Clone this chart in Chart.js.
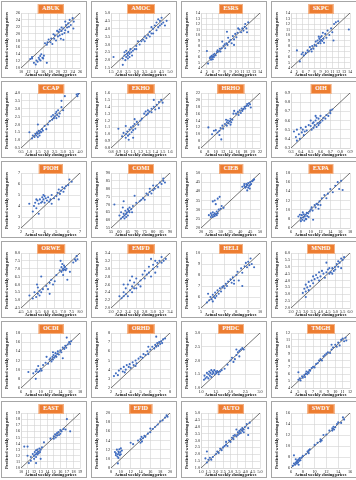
<!DOCTYPE html>
<html>
<head>
<meta charset="utf-8">
<script src="https://cdn.jsdelivr.net/npm/chart.js@4/dist/chart.umd.min.js"></script>
<style>
  body { margin: 0; background: #fff; width: 356px; height: 480px; position: relative; overflow: hidden; }
  .panel { position: absolute; width: 86px; height: 77px; border: 1px solid #a6a6a6; box-sizing: border-box; background: #fff; }
  .panel canvas { position: absolute; left: 0; top: 0; }
  .tag { position: absolute; top: 2px; height: 8px; line-height: 8px; padding: 0 3.5px; transform: translateX(-50%);
         background: #ed7d31; color: #fff; font: bold 6px "Liberation Serif", serif; border: 0.5px solid #f4b183; white-space: nowrap; }
</style>
</head>
<body>
<script>
// ticker names, in grid order (4 per row)
const names = ['ABUK','AMOC','ESRS','SKPC','CCAP','EKHO','HRHO','OIH','PIOH','COMI','CIEB','EXPA',
               'ORWE','EMFD','HELI','MNHD','OCDI','ORHD','PHDC','TMGH','EAST','EFID','AUTO','SWDY'];
// axis range and tick step of each panel (same for x and y)
const axisMin  = [10, 1.5, 4, 4, 0.5, 0.8, 6, 0.3, 2, 55, 20, 6, 4.5, 2, 5, 2, 6, 2, 1, 4, 10, 8, 1, 6];
const axisMax  = [26, 5, 14, 14, 4, 1.6, 22, 0.9, 7, 90, 50, 18, 8, 3.4, 10, 6, 18, 8, 3, 12, 19, 20, 5, 16];
const axisStep = [2, 0.5, 1, 1, 0.5, 0.1, 2, 0.1, 1, 5, 5, 2, 0.5, 0.2, 1, 0.5, 2, 1, 0.5, 1, 1, 2, 0.5, 2];

// [actual, predicted] weekly closing prices
const ABUK = [[12.5,12.6],[13,13.2],[13,12.8],[13.5,11.5],[14,11],[14.2,12.2],[14.5,11.8],[14.8,13],[15,12.5],[15.2,13.5],[15.3,12.2],[15.5,14],[15.8,13],[16,12.8],[16.2,13.6],[17,11.5],
  [16.5,17.2],[17,16.8],[17.2,17.5],[17.5,18.3],[18,17.5],[18.2,18.6],[18.5,17],[18.8,19.8],[19,18.5],[19.2,19.5],[19.5,18],[19.8,20.8],[20,19.2],[20.2,20.5],[20.5,19.5],[20.5,21.2],[20.8,18.5],
  [21,20.8],[21,21.8],[21.2,19.8],[21.5,21.5],[21.5,18.2],[21.8,20.2],[22,21],[22,23.5],[22.2,22.5],[22.5,21.8],[22.8,23],[22.8,20.5],[23,22],[23.2,24],[23.5,22.5],[24,24.5],[24.2,21.5],[24.3,23.5]];
const AMOC = [[1.65,2.2],[2.2,1.7],[2.2,2.1],[2.3,2.3],[2.3,2.5],[2.35,2.0],[2.4,2.2],[2.4,2.6],[2.45,2.4],[2.5,2.1],[2.5,2.3],[2.55,2.5],[2.6,2.2],[2.6,2.4],[2.65,2.7],[2.7,2.5],[2.75,2.3],[2.8,2.6],
  [2.9,2.7],[3.0,2.9],[3.0,2.7],[3.1,3.2],[3.2,3.0],[3.3,3.2],[3.4,3.3],[3.5,3.5],[3.5,3.2],[3.6,3.4],[3.7,3.6],[3.8,3.5],[3.8,3.8],[3.9,3.7],[3.9,4.1],[4.0,4.0],[4.0,3.7],[4.1,4.2],[4.2,3.9],
  [4.2,4.4],[4.3,4.1],[4.3,4.6],[4.4,4.5],[4.4,4.2],[4.5,4.3],[4.5,4.7],[4.6,4.4],[4.7,4.2],[4.8,4.5]];
const ESRS = [[5,7.1],[5.2,4.8],[5.5,5.8],[5.6,6],[5.7,5.5],[5.8,6.2],[5.9,5.9],[6,6.1],[6,5.6],[6.1,6.4],[6.2,6.0],[6.3,6.6],[6.5,6.3],[6.7,6.9],[6.8,7.2],[7,7.0],[7.2,7.5],[7.3,7.0],[7.5,7.6],
  [7.6,8.8],[7.8,8],[8,8.3],[8.1,7.6],[8.3,8.5],[8.4,10.6],[8.5,8.2],[8.6,9.5],[8.8,8.8],[9,9.1],[9.2,8.5],[9.4,9.8],[9.6,9.2],[9.6,8.2],[9.8,10.2],[10,9.6],[10.2,10.4],[10.3,11.2],[10.5,11],
  [10.8,10.5],[11,11.2],[11.2,10.8],[11.4,11.5],[11.5,12],[11.7,11.2],[11.8,10.5],[12,12.3]];
const SKPC = [[5,7.2],[5.5,5.2],[5.8,6.5],[6,6.8],[6.2,6.3],[6.5,6.7],[6.8,7.2],[7,7.0],[7.2,7.8],[7.4,7.4],[7.5,7.0],[7.6,8.0],[7.8,7.5],[8,8.2],[8.2,8.8],[8.3,8.0],[8.5,9.0],[8.6,8.5],[8.7,9.7],
  [8.8,9.3],[8.9,8.8],[9,9.6],[9,8.5],[9.1,9.1],[9.2,9.8],[9.3,8.9],[9.4,10.4],[9.5,9.3],[9.6,8.6],[9.8,10.2],[10,9.5],[10.2,10.8],[10.5,10],[10.8,11.2],[11,10.5],[11.2,9],[11.3,12],[11.6,12.3],
  [12,12.5],[13.8,11]];
const CCAP = [[1.0,1.5],[1.15,1.1],[1.2,1.3],[1.3,1.2],[1.35,1.4],[1.4,1.3],[1.45,1.5],[1.5,1.4],[1.5,1.2],[1.5,2.0],[1.55,1.6],[1.6,1.45],[1.6,1.3],[1.65,1.55],[1.7,1.5],[1.75,1.7],[1.8,1.6],
  [1.9,1.9],[2.0,1.7],[2.1,2.0],[2.2,2.2],[2.3,2.5],[2.35,2.3],[2.4,2.6],[2.45,2.4],[2.5,2.5],[2.55,2.7],[2.6,2.4],[2.6,2.8],[2.65,2.6],[2.7,2.9],[2.75,2.5],[2.8,2.7],[2.9,3.1],[2.9,3.5],
  [3.0,2.9],[3.1,3.8],[3.8,3.9],[3.85,3.8],[3.9,3.95]];
const EKHO = [[0.9,1.08],[0.95,0.97],[0.97,1.02],[1.0,0.95],[1.0,1.0],[1.0,1.12],[1.02,1.04],[1.03,0.98],[1.04,0.92],[1.05,1.07],[1.05,1.0],[1.07,1.1],[1.08,1.03],[1.1,1.12],[1.1,1.06],[1.1,0.95],
  [1.12,1.15],[1.12,1.22],[1.13,1.08],[1.15,1.18],[1.17,1.14],[1.2,1.2],[1.22,1.23],[1.25,1.3],[1.27,1.33],[1.28,1.28],[1.3,1.35],[1.3,1.3],[1.32,1.33],[1.35,1.37],[1.35,1.32],[1.38,1.4],
  [1.38,1.5],[1.4,1.36],[1.42,1.43],[1.45,1.47],[1.45,1.38],[1.48,1.5],[1.5,1.46]];
const HRHO = [[8,12],[9,10],[9.5,11],[10,11.2],[10.5,10.5],[11,11],[11,9.8],[11.3,11.8],[11.5,8.5],[11.8,12.5],[12,11.6],[12.5,13],[12.8,14.2],[13,13.5],[13,12.5],[13.3,14],[13.5,13.2],[13.8,13.8],
  [14,14.5],[14,12.8],[14.2,13.5],[14.5,14.2],[14.8,16],[15,16.8],[15.5,16],[16,16.5],[16.2,15.6],[16.5,17],[16.8,16.2],[17,17.5],[17.2,16.8],[17.5,17.3],[17.8,18],[18,17.5],[18.3,18.2],
  [18.5,18.8],[18.8,18.3],[19,19],[19.3,18.7],[19.5,17.8]];
const OIH = [[0.33,0.48],[0.35,0.42],[0.36,0.5],[0.36,0.38],[0.38,0.45],[0.39,0.4],[0.4,0.52],[0.41,0.47],[0.42,0.5],[0.43,0.44],[0.44,0.48],[0.45,0.53],[0.46,0.49],[0.48,0.55],[0.5,0.54],
  [0.5,0.6],[0.51,0.5],[0.52,0.57],[0.53,0.52],[0.53,0.58],[0.54,0.55],[0.55,0.6],[0.55,0.65],[0.56,0.53],[0.56,0.63],[0.57,0.57],[0.58,0.55],[0.58,0.62],[0.59,0.57],[0.6,0.58],[0.6,0.65],
  [0.62,0.6],[0.63,0.63],[0.65,0.62],[0.66,0.66],[0.68,0.65],[0.7,0.71],[0.7,0.68],[0.72,0.72]];
const PIOH = [[2.7,4.2],[3,3.5],[3.1,4],[3.2,4.3],[3.3,3.8],[3.3,4.6],[3.4,4.5],[3.5,4.2],[3.5,3.3],[3.6,4.6],[3.7,4.3],[3.8,4.8],[3.8,4.4],[3.9,4.6],[3.9,5],[4,4.9],[4,4.3],[4.1,4.7],
  [4.2,4.5],[4.3,4.8],[4.4,4.4],[4.5,4.6],[4.6,5],[4.6,4.2],[4.8,4.7],[5,4.9],[5.1,5.2],[5.2,5.5],[5.2,4.6],[5.3,5.1],[5.4,5.4],[5.5,5.7],[5.6,5.3],[5.7,5.6],[5.8,5.8],[6,5.9],[6.1,6.4],[6.3,6.2]];
const COMI = [[57,70],[60,63],[61,61],[61,65],[62,62],[62,68],[62.5,64],[62.5,72],[63,63],[63,61],[63.5,66],[64,64],[64,62],[64.5,65],[65,67],[65,63],[65.5,66],[66,65],[66,68],[67,67],[67.5,65],
  [68,69],[69,75.5],[70,71],[72,72],[73,73],[74,74],[75,73],[76,77],[77,76],[78,78],[78,80],[79,77],[80,79],[80,82],[81,80],[82,82],[83,81],[84,84],[85,83],[86,85],[86,86.5],[87,84]];
const CIEB = [[24,27],[25,26],[25,28],[25.5,27],[26,26],[26,28.5],[26,34.5],[26.5,27.2],[27,26.5],[27,28],[27,35],[27.5,27.5],[27.5,33],[28,27],[28,29],[28.5,28],[28.5,36],[29,30],[29.5,37],
  [30,30.5],[30.5,32],[31.5,31],[41,42.5],[42,43],[42,44],[42.5,42],[43,44],[43,42.5],[43.5,43.5],[43.5,40.5],[44,44.5],[44,42],[44.5,43],[44.8,41.5],[45,45],[45,43.5],[45.5,44],[46,45.5],
  [46.5,46],[47,46.5]];
const EXPA = [[7.5,8.5],[7.8,8.9],[8,7.5],[8,8.2],[8.2,8.8],[8.3,7.8],[8.4,9.4],[8.5,8.3],[8.6,9],[8.7,7.6],[8.8,8.5],[9,8.9],[9,8],[9.1,7.9],[9.2,9.3],[9.3,8.6],[9.5,9.2],[9.6,8.4],[9.8,9.6],
  [10,10],[10.2,10.5],[10.4,9.8],[10.5,7.8],[10.8,11],[11,10.5],[11.2,11.3],[11.5,11.1],[11.6,10.2],[11.8,11.8],[12,11],[12.3,12.5],[12.8,13.2],[13.2,12.5],[13.5,13.5],[14,14.5],[14.5,13.8],
  [15,15.2],[15.5,16],[15.8,14.5],[16.2,16.3],[16.5,14.3]];
const ORWE = [[5,5.3],[5.2,5.1],[5.3,5.5],[5.4,5.2],[5.45,6],[5.5,5.4],[5.5,5.8],[5.6,5.3],[5.6,5.6],[5.7,5.5],[5.7,6.5],[5.8,5.7],[6,5.9],[6.1,5.7],[6.2,6.1],[6.2,5.4],[6.3,6.3],[6.4,6.0],
  [6.5,6.2],[6.6,6.6],[6.8,6.9],[6.85,7.5],[6.9,7.1],[6.9,6.8],[6.95,7.3],[7,7.0],[7,6.9],[7,6.6],[7.05,7.2],[7.1,6.95],[7.1,7.1],[7.15,6.9],[7.2,7.0],[7.25,6.3],[7.4,6.8],[7.6,7.4],[7.7,7.6],
  [7.75,7.5],[7.8,7.8],[7.85,7.6]];
const EMFD = [[2.2,2.3],[2.25,2.25],[2.3,2.4],[2.3,2.3],[2.3,2.6],[2.35,2.5],[2.35,2.35],[2.4,2.6],[2.4,2.3],[2.45,2.45],[2.45,2.7],[2.5,2.4],[2.5,2.55],[2.5,2.8],[2.55,2.5],[2.55,2.65],
  [2.6,2.5],[2.6,2.75],[2.65,2.6],[2.7,2.7],[2.7,2.55],[2.75,2.85],[2.8,2.75],[2.8,2.95],[2.85,2.85],[2.9,2.9],[2.9,3.05],[2.95,2.8],[2.95,3.25],[3,3.0],[3,3.1],[3.05,2.9],[3.05,3.2],[3.1,3.15],
  [3.1,3.05],[3.15,3.2],[3.2,3.15],[3.2,3.3],[3.25,3.2],[3.3,3.25]];
const HELI = [[5.5,5.5],[5.6,6.3],[5.7,5.7],[5.8,6],[5.9,5.8],[6,6.2],[6,5.6],[6.1,6.0],[6.2,6.4],[6.2,5.9],[6.3,6.1],[6.4,6.6],[6.5,6.3],[6.6,6.8],[6.7,6.5],[6.8,6.9],[6.9,7.0],[7,6.8],
  [7.1,7.2],[7.2,7.0],[7.3,7.4],[7.5,7.6],[7.6,7.3],[7.7,7.8],[7.8,7.5],[7.8,7.2],[8,8],[8.1,8.3],[8.2,7.5],[8.4,8.6],[8.5,8.2],[8.5,7.0],[8.7,8.8],[8.8,9.1],[8.9,8.7],[9,9.2],[9.1,8.9],
  [9.2,9.5],[9.3,9.0],[9.5,8.7]];
const MNHD = [[2.8,3.1],[2.9,3.4],[3,3.7],[3,3.2],[3,2.8],[3.1,3.5],[3.2,3.9],[3.2,3.3],[3.3,3.6],[3.4,4.0],[3.5,3.8],[3.5,4.3],[3.6,4.1],[3.7,4.4],[3.8,4.2],[3.9,4.6],[3.9,4.0],[4,4.3],
  [4.1,4.7],[4.2,4.5],[4.3,4.2],[4.4,4.6],[4.4,5.3],[4.5,4.8],[4.6,4.5],[4.6,4.9],[4.7,4.6],[4.8,4.9],[4.8,4.5],[4.9,4.7],[5,5.0],[5,4.8],[5.1,5.2],[5.2,5.0],[5.2,5.4],[5.3,5.3],[5.4,5.6],
  [5.4,4.9],[5.5,5.5],[5.6,5.7]];
const OCDI = [[7.5,9.5],[8.5,9.2],[9,9.6],[9,8],[9.2,10],[9.5,9.5],[9.5,10.8],[9.8,9.7],[10,10.2],[10.2,9.8],[10.5,11],[11,11.5],[11.2,12.8],[11.5,11.3],[11.8,12.2],[12,12.5],[12.2,11.8],
  [12.4,12.8],[12.5,12.2],[12.5,13.8],[12.6,13.2],[12.8,12.6],[13,13],[13,13.6],[13.2,12.8],[13.4,13.5],[13.5,14],[13.7,13.3],[14,14.2],[14.2,13.8],[14.5,14.8],[14.5,12.5],[14.8,14.5],[15,15.2],
  [15.2,14.8],[15.3,17],[15.5,15.5],[15.8,16],[16,15.6],[16.2,16.2]];
const ORHD = [[2.3,3.3],[2.5,3.6],[2.7,3.4],[2.8,3.9],[3,4.1],[3.2,3.8],[3.3,4.3],[3.4,3.7],[3.5,4.0],[3.6,4.5],[3.8,4.3],[3.9,4.6],[4,4.2],[4.2,4.8],[4.3,4.5],[4.5,5.0],[4.5,4.4],[4.6,4.7],
  [4.8,5.2],[5,5.4],[5.2,5.3],[5.3,5.7],[5.5,5.6],[5.7,6.0],[5.8,5.7],[5.8,6.5],[6,6.2],[6.2,6.5],[6.4,6.3],[6.5,6.7],[6.6,6.5],[6.6,7.6],[6.7,6.9],[6.8,6.6],[6.9,7.0],[7,6.8],[7.1,7.1],
  [7.2,6.9],[7.3,7.3],[7.5,7.4]];
const PHDC = [[1.1,1.3],[1.12,1.45],[1.15,1.35],[1.2,1.55],[1.2,1.4],[1.25,1.5],[1.25,1.35],[1.28,1.6],[1.3,1.45],[1.32,1.55],[1.35,1.65],[1.35,1.4],[1.38,1.5],[1.4,1.6],[1.42,1.55],[1.45,1.65],
  [1.48,1.5],[1.5,1.6],[1.52,1.55],[1.55,1.62],[1.6,1.58],[1.6,1.5],[1.65,1.6],[1.7,1.65],[1.8,1.7],[1.9,1.85],[2,2.0],[2.05,2.1],[2.1,1.95],[2.15,2.05],[2.2,2.2],[2.2,2.4],[2.25,2.3],[2.3,2.35],
  [2.3,2.15],[2.35,2.4],[2.4,2.45],[2.45,2.4]];
const TMGH = [[5,5.2],[5,6.3],[5.2,5.4],[5.3,5.1],[5.5,5.7],[5.6,5.5],[5.8,5.9],[5.9,5.6],[6,6.1],[6.1,6.4],[6.2,6.0],[6.3,6.3],[6.4,6.2],[6.5,6.6],[6.6,6.5],[6.8,6.9],[7,7.1],[7.2,7.0],
  [7.4,7.5],[7.6,7.6],[7.8,8.0],[8,8.2],[8.2,8.0],[8.4,8.6],[8.6,8.8],[8.8,9.0],[9,9.2],[9.3,9.1],[9.5,9.6],[9.5,10.3],[9.7,9.9],[10,10.3],[10.2,10.0],[10.4,10.6],[10.6,10.2],[10.8,11],
  [11,11.2],[11.2,10.8],[11.4,11.3],[11.5,10.9]];
const EAST = [[10.5,13.5],[11,12],[11,13.5],[11.2,10.8],[11.5,11.2],[11.5,11.8],[11.8,12.3],[12,12.0],[12,11.5],[12.1,12.6],[12.2,12.2],[12.3,12.9],[12.3,11.8],[12.3,10.8],[12.4,12.4],
  [12.5,13],[12.5,12.2],[12.6,12.7],[12.7,12.4],[12.8,13.2],[12.9,12.6],[13,13],[13,11.5],[13.2,13.4],[13.5,14.2],[14.5,14.8],[15,15.2],[15,14.8],[15.2,15.5],[15.3,15.0],[15.5,15.7],[15.5,15.3],
  [15.7,15.9],[15.8,15.4],[16,16.2],[16,15.6],[16.2,16.0],[16.5,16.4],[16.8,16.3],[17,18],[17.5,16]];
const EFID = [[8.8,11.5],[9,10.8],[9,11.2],[9.2,12],[9.3,10.5],[9.4,11],[9.4,9],[9.5,11.6],[9.5,10.2],[9.6,11.3],[9.7,12.1],[9.8,10.8],[9.9,11.5],[10,11],[10,12.3],[10.2,11.8],[12,13.5],
  [12.5,13.2],[13.5,14],[14,13.5],[14,14.3],[14.2,14.8],[14.3,13.8],[14.5,14.5],[14.8,15],[15,14.8],[15.5,15.5],[16,15.8],[16,16.6],[16.5,16.5],[17,17],[17.5,17.5],[18,18.2],[18.5,18.4],
  [19,19],[19.3,19.5],[19.5,19.2]];
const AUTO = [[1.3,1.7],[1.4,1.4],[1.4,2.2],[1.5,1.6],[1.6,1.75],[1.7,1.6],[1.8,1.8],[2,2.0],[2.1,2.2],[2.2,2.1],[2.3,2.4],[2.4,2.3],[2.5,2.5],[2.6,2.6],[2.7,2.7],[2.7,2.9],[2.8,2.6],[2.9,3.0],
  [3,2.9],[3.1,3.2],[3.2,3.1],[3.2,3.35],[3.3,3.4],[3.4,3.3],[3.4,3.8],[3.5,3.6],[3.5,3.4],[3.6,3.7],[3.6,3.5],[3.7,3.8],[3.7,3.55],[3.8,3.7],[3.8,3.9],[3.9,3.8],[3.9,3.6],[4,4.0],[4.1,4.2],
  [4.2,3.9],[4.2,3.4],[4.3,4.3]];
const SWDY = [[6.3,6.4],[6.5,8.3],[6.5,6.8],[6.7,6.6],[6.8,7.0],[6.8,7.6],[7,7.2],[7,6.8],[7.1,7.4],[7.2,7.0],[7.3,7.6],[7.3,6.6],[7.4,7.3],[7.5,7.8],[7.6,7.4],[7.8,7.9],[8,8.2],[8.5,8.5],
  [8.8,9.0],[9,8.7],[9,9.2],[9.2,9.4],[10,10.2],[10.5,10.6],[11,11.2],[11,10.8],[11.2,11.0],[11.5,12],[12,12.1],[12.5,12.8],[13,13.2],[13,12.8],[13.2,13.5],[13.3,13.0],[13.5,13.4],[13.8,14],
  [14,14.3],[14.5,14.2],[14.8,15.2],[15,14.8]];

const series = [ABUK, AMOC, ESRS, SKPC, CCAP, EKHO, HRHO, OIH, PIOH, COMI, CIEB, EXPA,
                ORWE, EMFD, HELI, MNHD, OCDI, ORHD, PHDC, TMGH, EAST, EFID, AUTO, SWDY];

const serif = '"Liberation Serif", "Times New Roman", serif';
const tickFont = { family: serif, size: 4.2 };
const titleFont = { family: serif, size: 4.3, weight: 'bold' };

function axis(i, title, fit) {
  return {
    type: 'linear',
    min: axisMin[i],
    max: axisMax[i],
    ticks: { stepSize: axisStep[i], font: tickFont, color: '#1a1a1a', padding: 1, maxRotation: 0, autoSkip: false },
    grid: { color: '#d2d2d2', lineWidth: 0.6, drawTicks: false },
    border: { color: '#d2d2d2', width: 0.6 },
    title: { display: true, text: title, font: titleFont, color: '#000', padding: 0 },
    afterFit: fit
  };
}

names.forEach((name, i) => {
  const col = i % 4, row = Math.floor(i / 4);
  const panel = document.createElement('div');
  panel.className = 'panel';
  panel.style.left = (1 + col * 90) + 'px';
  panel.style.top = (1 + row * 80) + 'px';
  const canvas = document.createElement('canvas');
  canvas.width = 84;
  canvas.height = 75;
  panel.appendChild(canvas);
  const tag = document.createElement('div');
  tag.className = 'tag';
  tag.style.left = '49px';
  tag.textContent = name;
  panel.appendChild(tag);
  document.body.appendChild(panel);

  const pts = series[i].map(p => ({ x: p[0], y: p[1] }));
  new Chart(canvas, {
    type: 'scatter',
    data: {
      datasets: [
        { data: pts, backgroundColor: '#3f6cc0', borderColor: '#3f6cc0', pointRadius: 1.05, borderWidth: 0 },
        { type: 'line', data: [{ x: axisMin[i], y: axisMin[i] }, { x: axisMax[i], y: axisMax[i] }],
          borderColor: '#4d4d4d', borderWidth: 0.8, pointRadius: 0, fill: false }
      ]
    },
    options: {
      responsive: false,
      animation: false,
      events: [],
      layout: { padding: { left: 2, right: 6, top: 11, bottom: 0 } },
      plugins: { legend: { display: false }, tooltip: { enabled: false } },
      scales: {
        x: axis(i, 'Actual weekly closing prices', s => { s.height = 9; }),
        y: axis(i, 'Predicted weekly closing prices', s => { s.width = 17; })
      }
    }
  });
});
</script>
</body>
</html>
